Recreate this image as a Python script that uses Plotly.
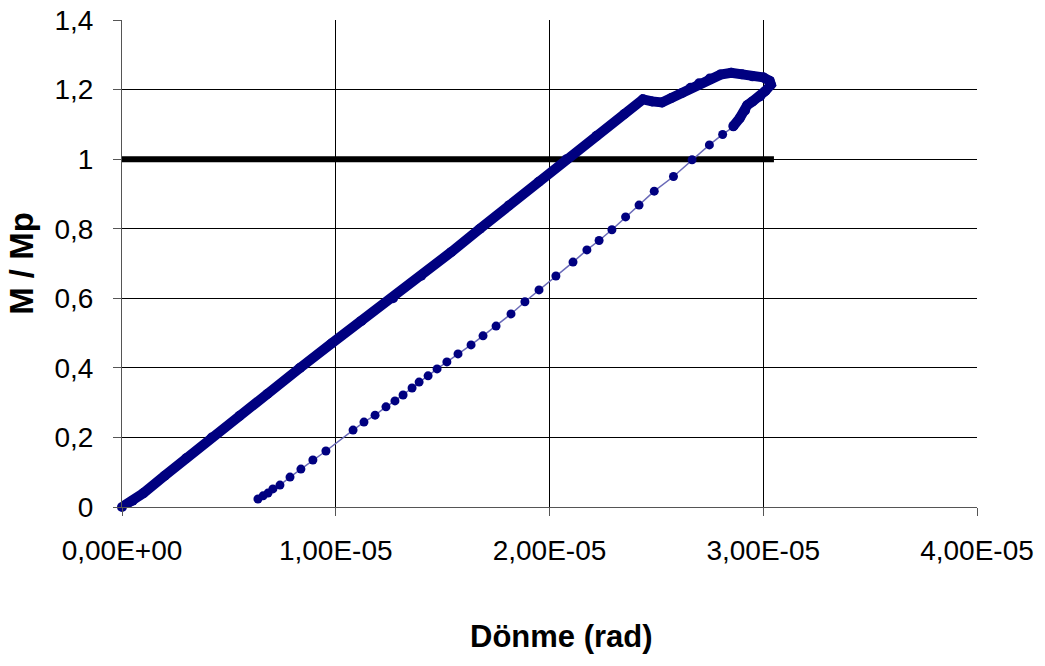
import plotly.graph_objects as go

# Loading branch (dense measured points), rotation in rad, M/Mp
load_x = [0.0, 0.05e-5, 0.10e-5, 0.20e-5, 0.30e-5, 0.42e-5, 0.55e-5, 0.68e-5, 0.833e-5,
          0.98e-5, 1.12e-5, 1.268e-5, 1.40e-5, 1.54e-5, 1.675e-5, 1.81e-5, 1.95e-5,
          2.08e-5, 2.22e-5, 2.35e-5, 2.437e-5, 2.48e-5, 2.526e-5, 2.57e-5, 2.62e-5,
          2.66e-5, 2.70e-5, 2.75e-5, 2.80e-5, 2.85e-5, 2.90e-5, 2.95e-5, 3.00e-5,
          3.03e-5, 3.036e-5, 3.01e-5, 2.985e-5, 2.95e-5, 2.925e-5, 2.915e-5, 2.89e-5,
          2.86e-5]
load_y = [0.000, 0.018, 0.040, 0.090, 0.140, 0.200, 0.262, 0.325, 0.400,
          0.470, 0.535, 0.600, 0.665, 0.733, 0.800, 0.867, 0.935,
          1.000, 1.067, 1.130, 1.172, 1.166, 1.163, 1.176, 1.190,
          1.205, 1.218, 1.232, 1.243, 1.248, 1.244, 1.238, 1.235,
          1.225, 1.214, 1.196, 1.180, 1.166, 1.155, 1.140, 1.118,
          1.095]

# Unloading branch (sparse points)
unload_x = [2.86e-5, 2.81e-5, 2.748e-5, 2.667e-5, 2.58e-5, 2.49e-5, 2.419e-5, 2.356e-5,
            2.292e-5, 2.232e-5, 2.175e-5, 2.11e-5, 2.03e-5, 1.951e-5, 1.885e-5, 1.82e-5,
            1.75e-5, 1.689e-5, 1.633e-5, 1.572e-5, 1.520e-5, 1.474e-5, 1.432e-5, 1.39e-5,
            1.357e-5, 1.315e-5, 1.277e-5, 1.235e-5, 1.184e-5, 1.132e-5, 1.081e-5,
            0.954e-5, 0.893e-5, 0.837e-5, 0.786e-5, 0.739e-5, 0.706e-5, 0.683e-5,
            0.66e-5, 0.636e-5]
unload_y = [1.093, 1.071, 1.041, 0.998, 0.950, 0.908, 0.868, 0.834,
            0.797, 0.766, 0.739, 0.704, 0.664, 0.624, 0.590, 0.555,
            0.520, 0.492, 0.466, 0.440, 0.417, 0.397, 0.377, 0.359,
            0.342, 0.322, 0.305, 0.288, 0.264, 0.244, 0.221,
            0.161, 0.135, 0.109, 0.086, 0.063, 0.052, 0.040,
            0.032, 0.023]

# Reference line M/Mp = 1
ref_x = [0.0, 3.05e-5]
ref_y = [1.0, 1.0]

x_tick_vals = [0.0, 1e-5, 2e-5, 3e-5, 4e-5]
x_tick_labels = ["0,00E+00", "1,00E-05", "2,00E-05", "3,00E-05", "4,00E-05"]
y_tick_vals = [0, 0.2, 0.4, 0.6, 0.8, 1.0, 1.2, 1.4]
y_tick_labels = ["0", "0,2", "0,4", "0,6", "0,8", "1", "1,2", "1,4"]

NAVY = "#000080"
FONT = "Liberation Sans, Arial, sans-serif"

fig = go.Figure()
fig.add_trace(go.Scatter(x=ref_x, y=ref_y, mode="lines",
                         line=dict(color="#000000", width=6),
                         cliponaxis=False, showlegend=False, hoverinfo="skip"))
fig.add_trace(go.Scatter(x=unload_x, y=unload_y, mode="lines+markers",
                         line=dict(color="#6a6ab8", width=1.5),
                         marker=dict(color=NAVY, size=9),
                         cliponaxis=False, showlegend=False))
fig.add_trace(go.Scatter(x=load_x, y=load_y, mode="lines+markers",
                         line=dict(color=NAVY, width=10),
                         marker=dict(color=NAVY, size=10),
                         cliponaxis=False, showlegend=False))

fig.update_layout(
    width=1045, height=666,
    margin=dict(l=122, r=68, t=20, b=159),
    paper_bgcolor="white", plot_bgcolor="white",
    font=dict(family=FONT, color="#000000", size=28),
    xaxis=dict(
        range=[0, 4e-5], tickvals=x_tick_vals, ticktext=x_tick_labels,
        automargin=False,
        showgrid=True, gridcolor="#000000", gridwidth=1,
        zeroline=False, showline=True, linecolor="#555555", linewidth=1,
        ticks="outside", ticklen=8, tickcolor="#555555",
        ticklabelstandoff=10,
        tickfont=dict(size=28),
    ),
    yaxis=dict(
        range=[0, 1.4], tickvals=y_tick_vals, ticktext=y_tick_labels,
        automargin=False,
        showgrid=True, gridcolor="#000000", gridwidth=1,
        zeroline=False, showline=True, linecolor="#555555", linewidth=1,
        ticks="outside", ticklen=8, tickcolor="#555555",
        ticklabelstandoff=14,
        tickfont=dict(size=28),
        title=dict(text="<b>M / Mp</b>", font=dict(size=33), standoff=10),
    ),
    annotations=[dict(
        text="<b>Dönme (rad)</b>", xref="paper", yref="paper",
        x=0.5146, y=-0.265, xanchor="center", yanchor="middle",
        showarrow=False, font=dict(size=31),
    )],
)

# Remove the browser's default 8px body margin so the figure fills the window exactly.
fig.write_html("out.html", config={"displayModeBar": False},
               post_script="document.body.style.margin='0';")
